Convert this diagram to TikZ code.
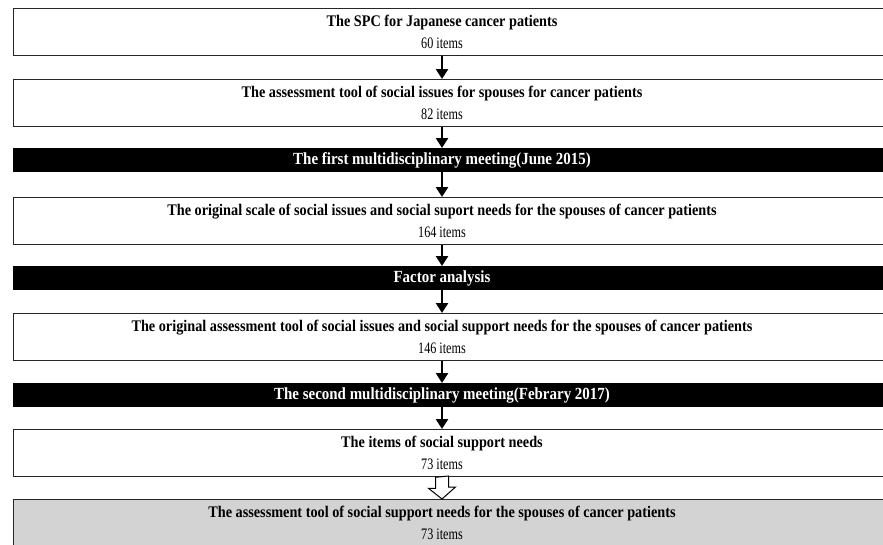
\documentclass[tikz,border=0pt]{standalone}
\usepackage{fontspec}
\setmainfont{Liberation Serif}[FakeStretch=0.88]
\newfontfamily\itemsfont{Liberation Serif}[FakeStretch=0.76]
\usetikzlibrary{arrows.meta,calc}
\definecolor{boxgray}{RGB}{211,211,211}

\newcommand{\steptitle}[1]{{\rmfamily\fontsize{16.2}{22}\selectfont\bfseries #1}}

\tikzset{
  stepbox/.style={draw=black!85,line width=1.3pt,fill=white,minimum width=877pt,minimum height=47pt,anchor=north west,inner sep=0pt},
  meetbar/.style={fill=black,minimum width=877pt,minimum height=24pt,anchor=north west,inner sep=0pt},
  steptext/.style={align=center,inner sep=0pt,font=\itemsfont\fontsize{16}{22}\selectfont},
  meettext/.style={text=white,inner sep=0pt,font=\fontsize{17}{22}\selectfont\bfseries},
  flow/.style={line width=2.6pt,-{Triangle[width=12pt,length=10pt]}},
  hollow/.style={draw=black,line width=1pt,fill=white}
}

\begin{document}
\begin{tikzpicture}[x=1pt,y=-1pt]
\useasboundingbox (0,0) rectangle (883,544);
\clip (0,0) rectangle (883,544);
% boxes
\node[stepbox] (b1) at (13,8) {};
\node[stepbox] (b2) at (13,79) {};
\node[meetbar] (m1) at (13,148) {};
\node[stepbox] (b3) at (13,197) {};
\node[meetbar] (m2) at (13,266) {};
\node[stepbox] (b4) at (13,313) {};
\node[meetbar] (m3) at (13,383) {};
\node[stepbox] (b5) at (13,429) {};
\node[stepbox,fill=boxgray] (b6) at (13,499) {};
% texts
\node[steptext] (t1) at (442,32) {\steptitle{The SPC for Japanese cancer patients}\\60 items};
\node[steptext] (t2) at (442,103) {\steptitle{The assessment tool of social issues for spouses for cancer patients}\\82 items};
\node[meettext] (s1) at (442,160.5) {The first multidisciplinary meeting(June 2015)};
\node[steptext] (t3) at (442,221) {\steptitle{The original scale of social issues and social suport needs for the spouses of cancer patients}\\164 items};
\node[meettext] (s2) at (442,278) {Factor analysis};
\node[steptext] (t4) at (442,337) {\steptitle{The original assessment tool of social issues and social support needs for the spouses of cancer patients}\\146 items};
\node[meettext] (s3) at (442,395) {The second multidisciplinary meeting(Febrary 2017)};
\node[steptext] (t5) at (442,453) {\steptitle{The items of social support needs}\\73 items};
\node[steptext] (t6) at (442,523) {\steptitle{The assessment tool of social support needs for the spouses of cancer patients}\\73 items};
% arrows
\draw[flow] (b1.south -| t1) -- (b2.north -| t1);
\draw[flow] (b2.south -| t1) -- (m1.north -| t1);
\draw[flow] (m1.south -| t1) -- (b3.north -| t1);
\draw[flow] (b3.south -| t1) -- (m2.north -| t1);
\draw[flow] (m2.south -| t1) -- (b4.north -| t1);
\draw[flow] (b4.south -| t1) -- (m3.north -| t1);
\draw[flow] (m3.south -| t1) -- (b5.north -| t1);
\coordinate (a) at (b5.south -| t5);
\coordinate (z) at (b6.north -| t5);
\draw[hollow] ($(a)+(-6.5,0)$) -- ++(0,11) -- ++(-7,0) -- (z) -- ++(13.5,-12) -- ++(-7,0) -- ++(0,-11) -- cycle;
\end{tikzpicture}
\end{document}
